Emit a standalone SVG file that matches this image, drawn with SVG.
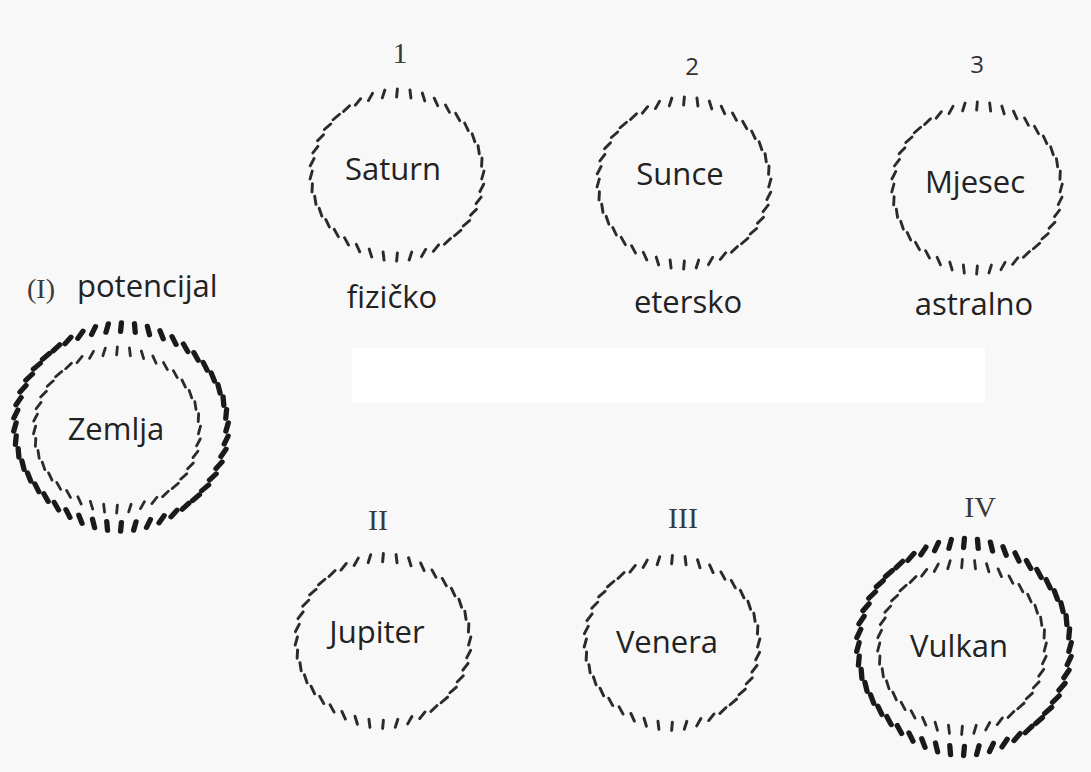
<svg xmlns="http://www.w3.org/2000/svg" width="1091" height="772" viewBox="0 0 1091 772">
<style>
.lbl{font-family:"Open Sans","Liberation Sans",sans-serif;font-size:31px;fill:#222;text-anchor:middle}
.num{font-family:"Open Sans","Liberation Sans",sans-serif;font-size:24px;fill:#333;text-anchor:middle}
.rom{font-family:"Liberation Serif","Times New Roman",serif;font-size:30px;fill:#3a3a3a;text-anchor:middle}
.tk{stroke:#2b2b2b;stroke-width:2.9;stroke-linecap:round}
.tkb{stroke:#1a1a1a;stroke-width:5.2;stroke-linecap:round}
</style>
<defs>
<line id="t" class="tk" x1="0" y1="-4.3" x2="0" y2="4.3"/>
<line id="T" class="tkb" x1="0" y1="-4.6" x2="0" y2="4.6"/>
<g id="ring">
<use href="#t" transform="rotate(0) translate(0,-85) rotate(5)"/>
<use href="#t" transform="rotate(9) translate(0,-85) rotate(-15.5)"/>
<use href="#t" transform="rotate(18) translate(0,-85) rotate(-34.4)"/>
<use href="#t" transform="rotate(27) translate(0,-85) rotate(-50.7)"/>
<use href="#t" transform="rotate(36) translate(0,-85) rotate(-63.7)"/>
<use href="#t" transform="rotate(45) translate(0,-85) rotate(-73)"/>
<use href="#t" transform="rotate(54) translate(0,-85) rotate(-78.6)"/>
<use href="#t" transform="rotate(63) translate(0,-85) rotate(-80.8)"/>
<use href="#t" transform="rotate(72) translate(0,-85) rotate(-80.3)"/>
<use href="#t" transform="rotate(81) translate(0,-85) rotate(-78)"/>
<use href="#t" transform="rotate(90) translate(0,-85) rotate(-75)"/>
<use href="#t" transform="rotate(99) translate(0,-85) rotate(-72.5)"/>
<use href="#t" transform="rotate(108) translate(0,-85) rotate(-71.6)"/>
<use href="#t" transform="rotate(117) translate(0,-85) rotate(-73.3)"/>
<use href="#t" transform="rotate(126) translate(0,-85) rotate(-78.3)"/>
<use href="#t" transform="rotate(135) translate(0,-85) rotate(-87)"/>
<use href="#t" transform="rotate(144) translate(0,-85) rotate(-99.4)"/>
<use href="#t" transform="rotate(153) translate(0,-85) rotate(-115.2)"/>
<use href="#t" transform="rotate(162) translate(0,-85) rotate(-133.7)"/>
<use href="#t" transform="rotate(171) translate(0,-85) rotate(-154)"/>
<use href="#t" transform="rotate(180) translate(0,-85) rotate(-175)"/>
<use href="#t" transform="rotate(189) translate(0,-85) rotate(-195.5)"/>
<use href="#t" transform="rotate(198) translate(0,-85) rotate(-214.4)"/>
<use href="#t" transform="rotate(207) translate(0,-85) rotate(-230.7)"/>
<use href="#t" transform="rotate(216) translate(0,-85) rotate(-243.7)"/>
<use href="#t" transform="rotate(225) translate(0,-85) rotate(-253)"/>
<use href="#t" transform="rotate(234) translate(0,-85) rotate(-258.6)"/>
<use href="#t" transform="rotate(243) translate(0,-85) rotate(-260.8)"/>
<use href="#t" transform="rotate(252) translate(0,-85) rotate(-260.3)"/>
<use href="#t" transform="rotate(261) translate(0,-85) rotate(-258)"/>
<use href="#t" transform="rotate(270) translate(0,-85) rotate(-255)"/>
<use href="#t" transform="rotate(279) translate(0,-85) rotate(-252.5)"/>
<use href="#t" transform="rotate(288) translate(0,-85) rotate(-251.6)"/>
<use href="#t" transform="rotate(297) translate(0,-85) rotate(-253.3)"/>
<use href="#t" transform="rotate(306) translate(0,-85) rotate(-258.3)"/>
<use href="#t" transform="rotate(315) translate(0,-85) rotate(-267)"/>
<use href="#t" transform="rotate(324) translate(0,-85) rotate(-279.4)"/>
<use href="#t" transform="rotate(333) translate(0,-85) rotate(-295.2)"/>
<use href="#t" transform="rotate(342) translate(0,-85) rotate(-313.7)"/>
<use href="#t" transform="rotate(351) translate(0,-85) rotate(-334)"/>
</g>
<g id="ringB">
<use href="#T" transform="rotate(0) translate(0,-104) rotate(5)"/>
<use href="#T" transform="rotate(7.5) translate(0,-104) rotate(-12.2)"/>
<use href="#T" transform="rotate(15) translate(0,-104) rotate(-28.3)"/>
<use href="#T" transform="rotate(22.5) translate(0,-104) rotate(-42.9)"/>
<use href="#T" transform="rotate(30) translate(0,-104) rotate(-55.4)"/>
<use href="#T" transform="rotate(37.5) translate(0,-104) rotate(-65.5)"/>
<use href="#T" transform="rotate(45) translate(0,-104) rotate(-73)"/>
<use href="#T" transform="rotate(52.5) translate(0,-104) rotate(-77.9)"/>
<use href="#T" transform="rotate(60) translate(0,-104) rotate(-80.4)"/>
<use href="#T" transform="rotate(67.5) translate(0,-104) rotate(-80.8)"/>
<use href="#T" transform="rotate(75) translate(0,-104) rotate(-79.7)"/>
<use href="#T" transform="rotate(82.5) translate(0,-104) rotate(-77.5)"/>
<use href="#T" transform="rotate(90) translate(0,-104) rotate(-75)"/>
<use href="#T" transform="rotate(97.5) translate(0,-104) rotate(-72.8)"/>
<use href="#T" transform="rotate(105) translate(0,-104) rotate(-71.7)"/>
<use href="#T" transform="rotate(112.5) translate(0,-104) rotate(-72.1)"/>
<use href="#T" transform="rotate(120) translate(0,-104) rotate(-74.6)"/>
<use href="#T" transform="rotate(127.5) translate(0,-104) rotate(-79.5)"/>
<use href="#T" transform="rotate(135) translate(0,-104) rotate(-87)"/>
<use href="#T" transform="rotate(142.5) translate(0,-104) rotate(-97.1)"/>
<use href="#T" transform="rotate(150) translate(0,-104) rotate(-109.6)"/>
<use href="#T" transform="rotate(157.5) translate(0,-104) rotate(-124.2)"/>
<use href="#T" transform="rotate(165) translate(0,-104) rotate(-140.3)"/>
<use href="#T" transform="rotate(172.5) translate(0,-104) rotate(-157.5)"/>
<use href="#T" transform="rotate(180) translate(0,-104) rotate(-175)"/>
<use href="#T" transform="rotate(187.5) translate(0,-104) rotate(-192.2)"/>
<use href="#T" transform="rotate(195) translate(0,-104) rotate(-208.3)"/>
<use href="#T" transform="rotate(202.5) translate(0,-104) rotate(-222.9)"/>
<use href="#T" transform="rotate(210) translate(0,-104) rotate(-235.4)"/>
<use href="#T" transform="rotate(217.5) translate(0,-104) rotate(-245.5)"/>
<use href="#T" transform="rotate(225) translate(0,-104) rotate(-253)"/>
<use href="#T" transform="rotate(232.5) translate(0,-104) rotate(-257.9)"/>
<use href="#T" transform="rotate(240) translate(0,-104) rotate(-260.4)"/>
<use href="#T" transform="rotate(247.5) translate(0,-104) rotate(-260.8)"/>
<use href="#T" transform="rotate(255) translate(0,-104) rotate(-259.7)"/>
<use href="#T" transform="rotate(262.5) translate(0,-104) rotate(-257.5)"/>
<use href="#T" transform="rotate(270) translate(0,-104) rotate(-255)"/>
<use href="#T" transform="rotate(277.5) translate(0,-104) rotate(-252.8)"/>
<use href="#T" transform="rotate(285) translate(0,-104) rotate(-251.7)"/>
<use href="#T" transform="rotate(292.5) translate(0,-104) rotate(-252.1)"/>
<use href="#T" transform="rotate(300) translate(0,-104) rotate(-254.6)"/>
<use href="#T" transform="rotate(307.5) translate(0,-104) rotate(-259.5)"/>
<use href="#T" transform="rotate(315) translate(0,-104) rotate(-267)"/>
<use href="#T" transform="rotate(322.5) translate(0,-104) rotate(-277.1)"/>
<use href="#T" transform="rotate(330) translate(0,-104) rotate(-289.6)"/>
<use href="#T" transform="rotate(337.5) translate(0,-104) rotate(-304.2)"/>
<use href="#T" transform="rotate(345) translate(0,-104) rotate(-320.3)"/>
<use href="#T" transform="rotate(352.5) translate(0,-104) rotate(-337.5)"/>
</g>
</defs>
<rect x="0" y="0" width="1091" height="772" fill="#f8f8f8"/>
<rect x="352" y="348" width="633" height="54" fill="#ffffff"/>
<g id="connectors"/>
<g id="saturn">
<text class="rom" x="400" y="63">1</text>
<use href="#ring" transform="translate(397,175) scale(1.01,0.965)"/>
<text class="lbl" x="393" y="180">Saturn</text>
<text class="lbl" x="392" y="308">fizičko</text>
</g>
<g id="sunce">
<text class="num" x="692" y="75">2</text>
<use href="#ring" transform="translate(684,183) scale(1.01,0.965)"/>
<text class="lbl" x="680" y="185">Sunce</text>
<text class="lbl" x="688" y="313">etersko</text>
</g>
<g id="mjesec">
<text class="num" x="977" y="73">3</text>
<use href="#ring" transform="translate(977,188) scale(0.99,0.965)"/>
<text class="lbl" x="975" y="193">Mjesec</text>
<text class="lbl" x="974" y="315">astralno</text>
</g>
<g id="zemlja">
<text x="27" y="298" style="font-family:'Liberation Serif','Times New Roman',serif;font-size:28px;fill:#3a3a3a">(I)</text>
<text x="77" y="297" style="font-family:'Open Sans','Liberation Sans',sans-serif;font-size:31px;fill:#222">potencijal</text>
<use href="#ringB" transform="translate(121,427) scale(1.02,0.96)"/>
<use href="#ring" transform="translate(117,430) scale(0.97,0.93)"/>
<text class="lbl" x="116" y="440">Zemlja</text>
</g>
<g id="jupiter">
<text class="rom" x="378" y="530">II</text>
<use href="#ring" transform="translate(383,641) scale(1.02,0.98)"/>
<text class="lbl" x="377" y="643">Jupiter</text>
</g>
<g id="venera">
<text class="rom" x="683" y="528">III</text>
<use href="#ring" transform="translate(672,643) scale(1.02,0.98)"/>
<text class="lbl" x="667" y="653">Venera</text>
</g>
<g id="vulkan">
<text class="rom" x="980" y="517">IV</text>
<use href="#ringB" transform="translate(964,647) scale(1.02,1)"/>
<use href="#ring" transform="translate(962,647) scale(0.98,0.98)"/>
<text class="lbl" x="959" y="657">Vulkan</text>
</g>
</svg>
